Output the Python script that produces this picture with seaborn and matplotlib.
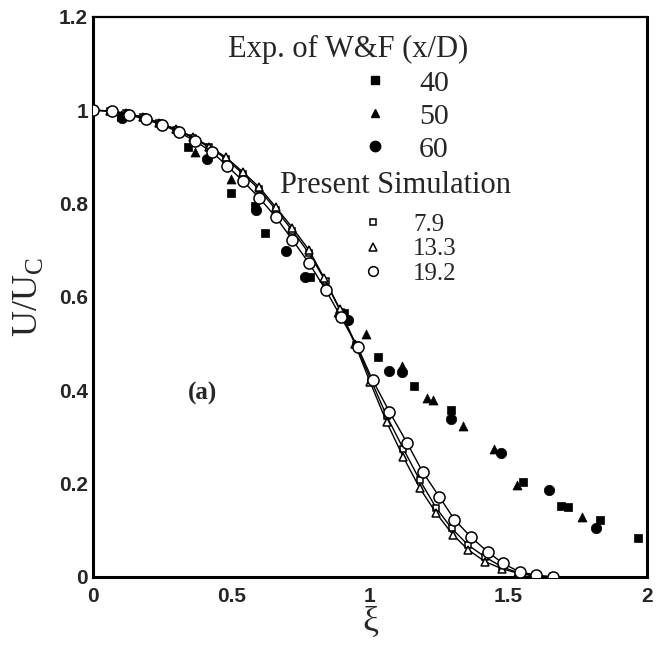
import matplotlib
matplotlib.use("Agg")
import matplotlib.pyplot as plt
import seaborn as sns
from matplotlib.lines import Line2D
from matplotlib.ticker import MultipleLocator

# ---------------- data ----------------
# Experiments of W&F (filled symbols)
exp40_xi = [0.10, 0.344, 0.50, 0.585, 0.622, 0.785, 0.905, 1.028, 1.160, 1.293, 1.551, 1.689, 1.713, 1.829, 1.969]
exp40_u = [0.985, 0.920, 0.823, 0.795, 0.737, 0.643, 0.565, 0.471, 0.408, 0.357, 0.204, 0.152, 0.149, 0.122, 0.083]

exp50_xi = [0.10, 0.368, 0.50, 0.884, 0.986, 1.116, 1.205, 1.226, 1.337, 1.449, 1.529, 1.767]
exp50_u = [0.990, 0.910, 0.853, 0.568, 0.521, 0.452, 0.384, 0.379, 0.323, 0.275, 0.197, 0.129]

exp60_xi = [0.105, 0.410, 0.590, 0.698, 0.765, 0.920, 1.070, 1.116, 1.293, 1.473, 1.647, 1.815]
exp60_u = [0.983, 0.895, 0.785, 0.698, 0.643, 0.550, 0.441, 0.439, 0.339, 0.265, 0.186, 0.106]

# Present simulation (open symbols with lines)
sim79_xi = [0.0, 0.06, 0.12, 0.18, 0.24, 0.30, 0.36, 0.42, 0.48, 0.54, 0.60, 0.66, 0.72, 0.78, 0.84,
            0.895, 0.95, 1.005, 1.06, 1.12, 1.18, 1.24, 1.295, 1.355, 1.415, 1.475, 1.54, 1.60, 1.66]
sim79_u = [1.0, 0.998, 0.993, 0.985, 0.973, 0.958, 0.941, 0.920, 0.896, 0.864, 0.830, 0.787, 0.742, 0.693, 0.633,
           0.567, 0.497, 0.420, 0.345, 0.275, 0.207, 0.147, 0.104, 0.068, 0.043, 0.022, 0.008, 0.003, 0.0]

sim133_xi = [0.0, 0.06, 0.12, 0.18, 0.24, 0.30, 0.36, 0.42, 0.48, 0.54, 0.60, 0.66, 0.72, 0.78, 0.835,
             0.89, 0.945, 1.0, 1.06, 1.12, 1.18, 1.24, 1.30, 1.355, 1.415, 1.475, 1.535, 1.595, 1.65]
sim133_u = [1.0, 0.998, 0.993, 0.985, 0.973, 0.959, 0.943, 0.922, 0.899, 0.868, 0.835, 0.792, 0.748, 0.700, 0.640,
            0.575, 0.500, 0.418, 0.332, 0.257, 0.190, 0.136, 0.090, 0.058, 0.033, 0.018, 0.008, 0.002, 0.0]

sim192_xi = [0.0, 0.07, 0.13, 0.19, 0.25, 0.31, 0.37, 0.43, 0.485, 0.54, 0.60, 0.66, 0.72, 0.78, 0.84,
             0.895, 0.955, 1.01, 1.07, 1.135, 1.19, 1.25, 1.305, 1.365, 1.425, 1.48, 1.54, 1.60, 1.66]
sim192_u = [1.0, 0.997, 0.990, 0.980, 0.968, 0.953, 0.933, 0.910, 0.880, 0.849, 0.812, 0.771, 0.722, 0.672, 0.615,
            0.557, 0.493, 0.421, 0.354, 0.286, 0.225, 0.172, 0.123, 0.085, 0.054, 0.029, 0.011, 0.004, 0.0]

exp_labels = ["40", "50", "60"]
sim_labels = ["7.9", "13.3", "19.2"]
exp_title = "Exp. of W&F (x/D)"
sim_title = "Present Simulation"
panel_label = "(a)"

x_ticks = [0, 0.5, 1, 1.5, 2]
x_ticklabels = ["0", "0.5", "1", "1.5", "2"]
y_ticks = [0, 0.2, 0.4, 0.6, 0.8, 1.0, 1.2]
y_ticklabels = ["0", "0.2", "0.4", "0.6", "0.8", "1", "1.2"]

# ---------------- style ----------------
sns.set_style("white")
plt.rcParams["font.family"] = ["Liberation Serif", "DejaVu Serif"]

fig = plt.figure(figsize=(6.57, 6.45), dpi=100)
ax = fig.add_axes([93 / 657, 1 - 577 / 645, 554 / 657, 560.3 / 645])

# experiments
sns.scatterplot(x=exp40_xi, y=exp40_u, marker="s", s=36, color="black", edgecolor="black", linewidth=0.5, ax=ax, zorder=2)
sns.scatterplot(x=exp50_xi, y=exp50_u, marker="^", s=42, color="black", edgecolor="black", linewidth=0.5, ax=ax, zorder=2)
sns.scatterplot(x=exp60_xi, y=exp60_u, marker="o", s=56, color="black", edgecolor="black", linewidth=0.5, ax=ax, zorder=2)

# simulations
sim_kw = dict(estimator=None, sort=False, color="black", linewidth=1.0, markerfacecolor="white",
              markeredgecolor="black", markeredgewidth=1.1, ax=ax)
sns.lineplot(x=sim79_xi, y=sim79_u, marker="s", markersize=5, zorder=3, **sim_kw)
sns.lineplot(x=sim133_xi, y=sim133_u, marker="^", markersize=6, zorder=4, **sim_kw)
sns.lineplot(x=sim192_xi, y=sim192_u, marker="o", markersize=8, zorder=5, **sim_kw)

# axes
ax.set_xlim(0, 2)
ax.set_ylim(0, 1.2)
ax.set_xticks(x_ticks)
ax.set_xticklabels(x_ticklabels, fontfamily="Liberation Sans", fontweight="bold", fontsize=15)
ax.set_yticks(y_ticks)
ax.set_yticklabels(y_ticklabels, fontfamily="Liberation Sans", fontweight="bold", fontsize=15)
ax.xaxis.set_minor_locator(MultipleLocator(0.1))
ax.yaxis.set_minor_locator(MultipleLocator(0.05))
ax.tick_params(axis="x", which="major", direction="in", length=10, width=2.2, pad=7, color="black")
ax.tick_params(axis="x", which="minor", direction="in", length=5, width=1.1, color="black")
ax.tick_params(axis="y", which="major", direction="in", length=13, width=2.2, pad=3.5, color="black")
ax.tick_params(axis="y", which="minor", direction="in", length=8, width=1.1, color="black")
ax.tick_params(top=False, right=False, which="both")
for side in ["left", "bottom", "right"]:
    ax.spines[side].set_linewidth(2.2)
    ax.spines[side].set_color("black")
ax.spines["top"].set_linewidth(1.6)
ax.spines["top"].set_color("black")

ax.set_xlabel("ξ", fontsize=26)
ax.xaxis.set_label_coords(0.5, -0.052)
ax.set_ylabel(r"U/U$_{\mathregular{C}}$", fontsize=26)
ax.yaxis.set_label_coords(-0.087, 0.5)

# panel label
ax.text(0.396, 0.393, panel_label, fontsize=18, fontweight="bold", ha="center", va="center")

# legend titles
ax.text(0.244, 0.928, exp_title, fontsize=22, ha="left", va="baseline", transform=ax.transAxes)
ax.text(0.338, 0.6853, sim_title, fontsize=22, ha="left", va="baseline", transform=ax.transAxes)

# legends
exp_handles = [Line2D([], [], ls="none", marker="s", ms=5.5, color="black"),
               Line2D([], [], ls="none", marker="^", ms=6, color="black"),
               Line2D([], [], ls="none", marker="o", ms=7.5, color="black")]
leg1 = ax.legend(exp_handles, exp_labels, loc="upper left", bbox_to_anchor=(0.4827, 0.905),
                 frameon=False, fontsize=21.5, handlelength=1.0, handletextpad=0.97,
                 labelspacing=0.2, borderpad=0, borderaxespad=0)
ax.add_artist(leg1)

sim_handles = [Line2D([], [], ls="none", marker="s", ms=5, mfc="white", mec="black", mew=1.1),
               Line2D([], [], ls="none", marker="^", ms=6, mfc="white", mec="black", mew=1.1),
               Line2D([], [], ls="none", marker="o", ms=7, mfc="white", mec="black", mew=1.1)]
leg2 = ax.legend(sim_handles, sim_labels, loc="upper left", bbox_to_anchor=(0.4827, 0.6496),
                 frameon=False, fontsize=18, handlelength=1.0, handletextpad=1.1,
                 labelspacing=0.09, borderpad=0, borderaxespad=0)

fig.savefig("out.png", dpi=100)
